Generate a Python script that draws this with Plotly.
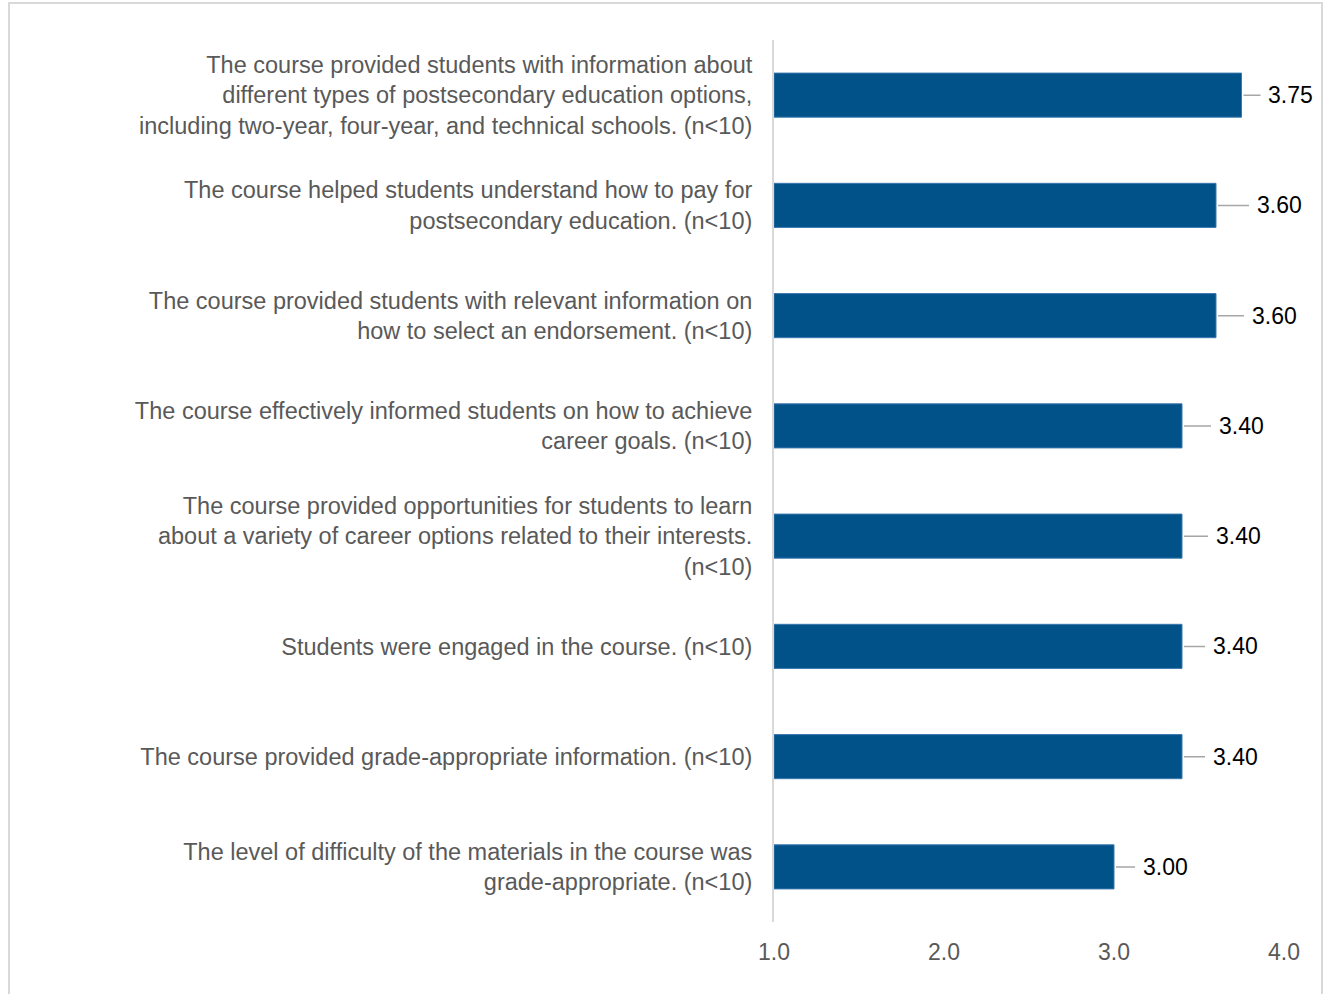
import plotly.graph_objects as go

statements = [
    "The course provided students with information about<br>different types of postsecondary education options,<br>including two-year, four-year, and technical schools. (n<10)",
    "The course helped students understand how to pay for<br>postsecondary education. (n<10)",
    "The course provided students with relevant information on<br>how to select an endorsement. (n<10)",
    "The course effectively informed students on how to achieve<br>career goals. (n<10)",
    "The course provided opportunities for students to learn<br>about a variety of career options related to their interests.<br>(n<10)",
    "Students were engaged in the course. (n<10)",
    "The course provided grade-appropriate information. (n<10)",
    "The level of difficulty of the materials in the course was<br>grade-appropriate. (n<10)",
]
scores = [3.75, 3.60, 3.60, 3.40, 3.40, 3.40, 3.40, 3.00]
tick_vals = [1, 2, 3, 4]
tick_text = ["1.0", "2.0", "3.0", "4.0"]

# how far each data label sits right of its bar end (px), like the source chart
label_dx = [49, 63, 58, 59, 56, 53, 53, 51]

FONT = "Liberation Sans, Arial, sans-serif"

fig = go.Figure()
fig.add_trace( go.Bar( x=[s - 1 for s in scores], base=1, y=statements, orientation="h",
                       marker={ "color" : "#02528A", "line" : { "color" : "#3A78AE", "width" : 1 } },
                       width=0.4, hoverinfo="skip" ) )

for stmt, val, dx in zip( statements, scores, label_dx ):
    fig.add_annotation( x=val, y=stmt, text=f"{val:.2f}",
                        showarrow=True, arrowhead=0, arrowwidth=1.5, arrowcolor="#A6A6A6",
                        ax=dx, ay=0, standoff=2, borderpad=7,
                        font={ "family" : FONT, "size" : 23, "color" : "#000000" } )

fig.update_xaxes( range=[1, 4], tickvals=tick_vals, ticktext=tick_text,
                  showgrid=False, zeroline=False, showline=False,
                  ticklabelstandoff=14,
                  tickfont={ "family" : FONT, "size" : 23, "color" : "#595959" } )
fig.update_yaxes( autorange="reversed", showgrid=False, showline=True,
                  linecolor="#D9D9D9", linewidth=2, ticks="",
                  ticklabelstandoff=15,
                  tickfont={ "family" : FONT, "size" : 23.5, "color" : "#595959" } )

# outer chart border
fig.add_shape( type="rect", xref="paper", yref="paper",
               x0=(9 - 774) / 510, x1=(1322 - 774) / 510,
               y0=(922 - 1000) / 882, y1=(922 - 3) / 882,
               line={ "color" : "#D9D9D9", "width" : 2 } )

fig.update_layout( width=1325, height=994,
                   plot_bgcolor="white", paper_bgcolor="white",
                   showlegend=False, bargap=0.6,
                   margin={ "l" : 774, "r" : 41, "t" : 40, "b" : 72 } )

fig.write_html( "out.html", config={ "displayModeBar" : False },
                post_script="document.body.style.margin='0';" )
